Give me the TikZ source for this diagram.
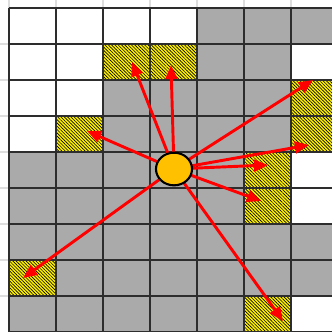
\documentclass[tikz,border=0pt]{standalone}
\usetikzlibrary{shapes.geometric,arrows.meta,patterns.meta}
\definecolor{cellgrey}{RGB}{170,170,170}
\definecolor{botorange}{RGB}{255,192,0}
\definecolor{faintgrey}{RGB}{222,222,222}
\definecolor{gridgrey}{RGB}{45,45,45}
\begin{document}
\begin{tikzpicture}[x=0.03cm, y=-0.03cm,
  occupied/.style={fill=cellgrey},
  frontier/.style={fill=yellow, postaction={pattern={Lines[angle=-45,distance=2pt,line width=0.55pt]}, pattern color=black}},
  gridline/.style={draw=gridgrey, line width=1.1pt},
  faintline/.style={draw=faintgrey, line width=1pt},
  ray/.style={draw=red, line width=2.5pt, -{Triangle[length=12pt,width=10pt]}},
  robot/.style={ellipse, draw=black, line width=1.8pt, fill=botorange, minimum width=1.08cm, minimum height=0.98cm, inner sep=0pt}]
\useasboundingbox (0,0) rectangle (332,331);
\clip (0,0) rectangle (332,331);

% occupied cells, one row at a time
\foreach \r/\a/\b in {0/4/6,1/4/5,2/2/5,3/2/5,4/0/4,5/0/4,6/0/6,7/1/6,8/0/4}
  \path[occupied] ({9+47*\a},{8+36*\r}) rectangle ({56+47*\b},{44+36*\r});

% frontier cells
\foreach \c/\r in {2/1,3/1,1/3,6/2,6/3,5/4,5/5,0/7,5/8}
  \path[frontier] ({9+47*\c},{8+36*\r}) rectangle +(47,36);

% grid
\foreach \i in {0,...,6} \draw[faintline] ({9+47*\i},0) -- ({9+47*\i},8);
\foreach \j in {1,...,8} \draw[faintline] (0,{8+36*\j}) -- (9,{8+36*\j});
\foreach \i in {0,...,7} \draw[gridline] ({9+47*\i},8) -- ({9+47*\i},332);
\foreach \j in {0,...,9} \draw[gridline] (9,{8+36*\j}) -- (338,{8+36*\j});

% rays to the frontier
\coordinate (c) at (174,169);
\coordinate (f21) at (132,62);
\coordinate (f31) at (171,65);
\coordinate (f13) at (87,131);
\coordinate (f62) at (313,80);
\coordinate (f63) at (309,145);
\coordinate (f54) at (268,165);
\coordinate (f55) at (261,201);
\coordinate (f58) at (283,321);
\coordinate (f07) at (23,278);
\foreach \t in {f21,f31,f13,f62,f63,f54,f55,f58,f07}
  \draw[ray] (c) -- (\t);

% robot
\node[robot] (bot) at (c) {};
\end{tikzpicture}
\end{document}
